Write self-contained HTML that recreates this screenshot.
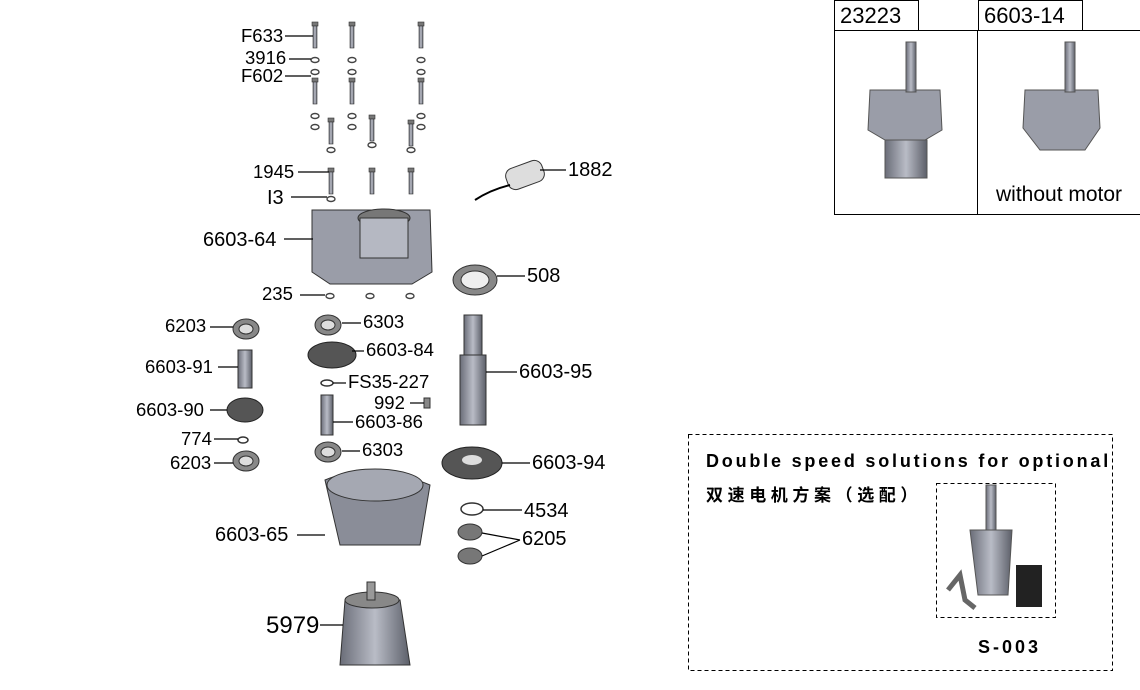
<!DOCTYPE html>
<html><head><meta charset="utf-8"><style>
body{margin:0;background:#fff;}
svg{display:block}
text{font-family:"Liberation Sans","Noto Sans CJK SC",sans-serif;fill:#000}
</style></head><body>
<svg width="1140" height="690" viewBox="0 0 1140 690">
<defs>
<linearGradient id="g" x1="0" x2="1"><stop offset="0" stop-color="#6a6d78"/><stop offset=".5" stop-color="#b9bcc6"/><stop offset="1" stop-color="#5c5f69"/></linearGradient>
<g id="bolt"><rect x="-3" y="0" width="6" height="4" fill="#777" stroke="#333" stroke-width=".6"/><rect x="-2" y="4" width="4" height="22" fill="url(#g)" stroke="#333" stroke-width=".6"/></g>
<g id="wash"><ellipse cx="0" cy="0" rx="4" ry="2.5" fill="none" stroke="#444" stroke-width="1.4"/></g>
<g id="bear"><ellipse cx="0" cy="0" rx="13" ry="10" fill="#888" stroke="#333"/><ellipse cx="0" cy="0" rx="7" ry="5" fill="#ddd" stroke="#333"/></g>
</defs>
<g font-size="18.5">
<use href="#bolt" x="315" y="22"/><use href="#bolt" x="352" y="22"/><use href="#bolt" x="421" y="22"/>
<use href="#wash" x="315" y="60"/><use href="#wash" x="352" y="60"/><use href="#wash" x="421" y="60"/>
<use href="#wash" x="315" y="72"/><use href="#wash" x="352" y="72"/><use href="#wash" x="421" y="72"/>
<use href="#bolt" x="315" y="78"/><use href="#bolt" x="352" y="78"/><use href="#bolt" x="421" y="78"/>
<use href="#wash" x="315" y="116"/><use href="#wash" x="352" y="116"/><use href="#wash" x="421" y="116"/>
<use href="#wash" x="315" y="127"/><use href="#wash" x="352" y="127"/><use href="#wash" x="421" y="127"/>
<use href="#bolt" x="331" y="118"/><use href="#bolt" x="372" y="115"/><use href="#bolt" x="411" y="120"/>
<use href="#wash" x="331" y="150"/><use href="#wash" x="372" y="145"/><use href="#wash" x="411" y="150"/>
<use href="#bolt" x="331" y="168"/><use href="#bolt" x="372" y="168"/><use href="#bolt" x="411" y="168"/>
<use href="#wash" x="331" y="199"/>
<path d="M312 210 L430 210 L432 272 L412 284 L330 284 L312 272 Z" fill="#9a9da8" stroke="#333"/>
<ellipse cx="384" cy="218" rx="26" ry="9" fill="#777" stroke="#333"/>
<rect x="360" y="218" width="48" height="40" fill="#b5b8c2" stroke="#333"/>
<use href="#wash" x="330" y="296"/><use href="#wash" x="370" y="296"/><use href="#wash" x="410" y="296"/>
<rect x="506" y="164" width="38" height="22" rx="8" fill="#ddd" stroke="#333" transform="rotate(-20 525 175)"/>
<path d="M510 185 Q490 190 475 200" fill="none" stroke="#000" stroke-width="2"/>
<ellipse cx="475" cy="280" rx="22" ry="15" fill="#888" stroke="#333"/><ellipse cx="475" cy="280" rx="14" ry="9" fill="#eee" stroke="#333"/>
<use href="#bear" x="246" y="329"/><use href="#bear" x="328" y="325"/><use href="#bear" x="328" y="452"/><use href="#bear" x="246" y="461"/>
<rect x="238" y="350" width="14" height="38" fill="url(#g)" stroke="#333"/>
<ellipse cx="332" cy="355" rx="24" ry="13" fill="#555" stroke="#222"/>
<ellipse cx="245" cy="410" rx="18" ry="12" fill="#555" stroke="#222"/>
<ellipse cx="327" cy="383" rx="6" ry="3" fill="none" stroke="#333" stroke-width="1.5"/>
<ellipse cx="243" cy="440" rx="5" ry="3" fill="none" stroke="#333" stroke-width="1.5"/>
<rect x="321" y="395" width="12" height="40" fill="url(#g)" stroke="#333"/>
<rect x="424" y="398" width="6" height="10" fill="#888" stroke="#333"/>
<rect x="464" y="315" width="18" height="40" fill="url(#g)" stroke="#333"/>
<rect x="460" y="355" width="26" height="70" fill="url(#g)" stroke="#333"/>
<ellipse cx="472" cy="463" rx="30" ry="16" fill="#555" stroke="#222"/><ellipse cx="472" cy="460" rx="10" ry="5" fill="#ddd"/>
<ellipse cx="472" cy="509" rx="11" ry="6" fill="none" stroke="#333" stroke-width="1.5"/>
<ellipse cx="470" cy="532" rx="12" ry="8" fill="#777" stroke="#333"/><ellipse cx="470" cy="556" rx="12" ry="8" fill="#777" stroke="#333"/>
<path d="M325 480 Q372 460 430 485 L420 545 L340 545 Z" fill="#8a8d98" stroke="#333"/>
<ellipse cx="375" cy="485" rx="48" ry="16" fill="#a5a8b2" stroke="#333"/>
<path d="M345 600 L400 600 L410 665 L340 665 Z" fill="url(#g)" stroke="#333"/>
<ellipse cx="372" cy="600" rx="27" ry="8" fill="#888" stroke="#333"/>
<rect x="367" y="582" width="8" height="18" fill="#999" stroke="#333"/>
<g stroke="#000" stroke-width="1.2">
<line x1="285" y1="36" x2="313" y2="36"/><line x1="289" y1="59" x2="311" y2="59"/><line x1="285" y1="76" x2="311" y2="76"/>
<line x1="298" y1="172" x2="329" y2="172"/><line x1="291" y1="197" x2="327" y2="197"/>
<line x1="284" y1="239" x2="313" y2="239"/><line x1="300" y1="295" x2="325" y2="295"/>
<line x1="497" y1="276" x2="525" y2="276"/><line x1="540" y1="170" x2="566" y2="170"/>
<line x1="210" y1="327" x2="233" y2="327"/><line x1="342" y1="323" x2="361" y2="323"/><line x1="352" y1="351" x2="364" y2="351"/>
<line x1="218" y1="367" x2="238" y2="367"/><line x1="486" y1="372" x2="517" y2="372"/>
<line x1="333" y1="383" x2="346" y2="383"/><line x1="410" y1="403" x2="424" y2="403"/>
<line x1="210" y1="410" x2="227" y2="410"/><line x1="333" y1="422" x2="353" y2="422"/>
<line x1="214" y1="439" x2="238" y2="439"/><line x1="342" y1="451" x2="360" y2="451"/><line x1="214" y1="463" x2="233" y2="463"/>
<line x1="502" y1="463" x2="530" y2="463"/><line x1="483" y1="510" x2="522" y2="510"/>
<line x1="297" y1="535" x2="325" y2="535"/><line x1="482" y1="533" x2="520" y2="540"/><line x1="482" y1="556" x2="520" y2="540"/>
<line x1="320" y1="625" x2="343" y2="625"/>
</g>
<text x="241" y="42">F633</text><text x="245" y="64">3916</text><text x="241" y="82">F602</text>
<text x="253" y="178">1945</text><text x="267" y="204" font-family="Liberation Serif" font-size="20">I3</text>
<text x="203" y="246" font-size="20">6603-64</text><text x="262" y="300">235</text>
<text x="527" y="282" font-size="20">508</text><text x="568" y="176" font-size="20">1882</text>
<text x="165" y="332">6203</text><text x="363" y="328">6303</text><text x="366" y="356">6603-84</text>
<text x="145" y="373">6603-91</text><text x="519" y="378" font-size="20">6603-95</text>
<text x="348" y="388">FS35-227</text><text x="374" y="409">992</text>
<text x="136" y="416">6603-90</text><text x="355" y="428">6603-86</text>
<text x="181" y="445">774</text><text x="362" y="456">6303</text><text x="170" y="469">6203</text>
<text x="532" y="469" font-size="20">6603-94</text><text x="524" y="517" font-size="20">4534</text>
<text x="215" y="541" font-size="20">6603-65</text><text x="522" y="545" font-size="20">6205</text>
<text x="266" y="633" font-size="24">5979</text>
</g>
<g stroke="#000" fill="none" stroke-width="1">
<rect x="834.5" y="30.5" width="306" height="184"/><line x1="977.5" y1="30" x2="977.5" y2="214"/>
<rect x="834.5" y="0.5" width="84" height="30"/><rect x="978.5" y="0.5" width="104" height="30"/>
</g>
<text x="840" y="23" font-size="22">23223</text><text x="984" y="23" font-size="22">6603-14</text>
<path d="M870 90 L940 90 L942 130 L925 140 L885 140 L868 130 Z" fill="#9a9da8" stroke="#555"/>
<rect x="885" y="140" width="42" height="38" fill="url(#g)" stroke="#555"/>
<rect x="906" y="42" width="10" height="50" fill="url(#g)" stroke="#555"/>
<path d="M1025 90 L1098 90 L1100 128 L1085 150 L1040 150 L1023 128 Z" fill="#9a9da8" stroke="#555"/>
<rect x="1065" y="42" width="10" height="50" fill="url(#g)" stroke="#555"/>
<text x="996" y="201" font-size="21">without motor</text>
<rect x="688.5" y="434.5" width="424" height="236" fill="none" stroke="#000" stroke-dasharray="4,3"/>
<text x="706" y="467" font-size="18" font-weight="bold" letter-spacing="2.8">Double speed solutions for optional</text>
<text x="706" y="501" font-size="17" font-weight="bold" letter-spacing="4.6">双速电机方案（选配）</text>
<rect x="936.5" y="483.5" width="119" height="134" fill="none" stroke="#000" stroke-dasharray="4,3"/>
<rect x="986" y="485" width="10" height="45" fill="url(#g)" stroke="#555"/>
<path d="M970 530 L1012 530 L1008 595 L978 595 Z" fill="url(#g)" stroke="#555"/>
<rect x="1016" y="565" width="26" height="42" fill="#222"/>
<path d="M948 590 L960 575 L965 600 L975 608" stroke="#666" stroke-width="5" fill="none"/>
<text x="978" y="653" font-size="18" font-weight="bold" letter-spacing="3">S-003</text>
</svg>
</body></html>
